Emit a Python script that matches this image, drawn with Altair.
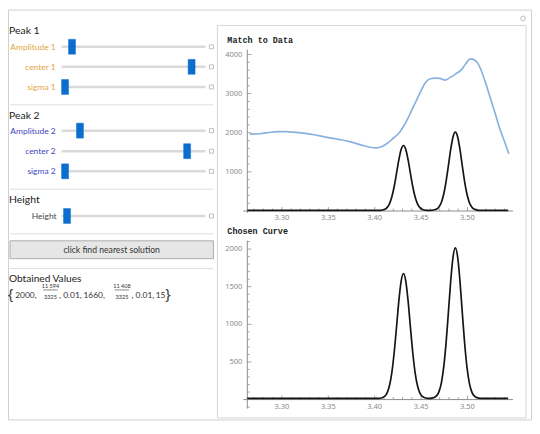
import altair as alt
import pandas as pd

# ---------------- data ----------------
data_x = [3.2655, 3.2750, 3.2850, 3.2950, 3.3050, 3.3150, 3.3250, 3.3350, 3.3450, 3.3550,
          3.3650, 3.3750, 3.3850, 3.3950, 3.4020, 3.4080, 3.4140, 3.4200, 3.4260, 3.4320,
          3.4380, 3.4440, 3.4500, 3.4550, 3.4600, 3.4650, 3.4700, 3.4760, 3.4810, 3.4870,
          3.4930, 3.4980, 3.5030, 3.5070, 3.5110, 3.5150, 3.5200, 3.5250, 3.5300, 3.5350,
          3.5400, 3.5445]
data_y = [1965, 1975, 2005, 2030, 2030, 2010, 1985, 1950, 1900, 1855,
          1815, 1760, 1690, 1630, 1615, 1650, 1740, 1860, 1990, 2200,
          2480, 2780, 3080, 3290, 3380, 3395, 3390, 3345, 3410, 3500,
          3600, 3760, 3890, 3870, 3780, 3580, 3240, 2860, 2480, 2090,
          1770, 1465]

curve_x = [3.2627, 3.3500, 3.4010, 3.4060, 3.4110, 3.4135, 3.4160, 3.4185, 3.4210, 3.4235,
           3.4260, 3.4285, 3.4310, 3.4335, 3.4360, 3.4385, 3.4410, 3.4435, 3.4460, 3.4485,
           3.4510, 3.4560, 3.4590, 3.4619, 3.4669, 3.4694, 3.4719, 3.4744, 3.4769, 3.4794,
           3.4819, 3.4844, 3.4869, 3.4894, 3.4919, 3.4944, 3.4969, 3.4994, 3.5019, 3.5044,
           3.5069, 3.5119, 3.5169, 3.5438]
curve_y = [15, 15, 15, 18, 45, 93, 190, 363, 626, 961,
           1308, 1574, 1675, 1574, 1308, 961, 626, 363, 190, 93,
           45, 18, 15, 19, 52, 109, 226, 434, 751, 1155,
           1573, 1893, 2015, 1893, 1573, 1155, 751, 434, 226, 109,
           52, 19, 15, 15]

x_major = [3.30, 3.35, 3.40, 3.45, 3.50]
x_major_text = ["3.30", "3.35", "3.40", "3.45", "3.50"]
x_minor = [3.27, 3.28, 3.29, 3.31, 3.32, 3.33, 3.34, 3.36, 3.37, 3.38, 3.39, 3.41,
           3.42, 3.43, 3.44, 3.46, 3.47, 3.48, 3.49, 3.51, 3.52, 3.53, 3.54]
y1_major = [1000, 2000, 3000, 4000]
y1_major_text = ["1000", "2000", "3000", "4000"]
y1_minor = [200, 400, 600, 800, 1200, 1400, 1600, 1800, 2200, 2400, 2600, 2800,
            3200, 3400, 3600, 3800]
y2_major = [500, 1000, 1500, 2000]
y2_major_text = ["500", "1000", "1500", "2000"]
y2_minor = [-100, 100, 200, 300, 400, 600, 700, 800, 900, 1100, 1200, 1300, 1400,
            1600, 1700, 1800, 1900, 2100]

obtained_values = ["2000", "11 594", "3325", "0.01", "1660", "11 408", "3325", "0.01", "15"]

# ---------------- layout / style ----------------
W, H = 528, 414
X0 = 3.2627           # where the y axes cross
XA, XB = 3.2585, 3.549
SX = alt.Scale(domain=[3.25, 3.55], range=[229.25, 509.75], nice=False, zero=False)
S1 = alt.Scale(domain=[0, 4000], range=[203, 45.3], nice=False, zero=False)
S2 = alt.Scale(domain=[0, 2000], range=[393, 241.3], nice=False, zero=False)
AXC = "#8c8c8c"
LABC = "#8a8a8a"
UI_FONT = "Lato"
ORANGE = "#e3a440"
BLUE = "#4343c0"
HANDLE = "#0b6ecf"
TRACK = "#dadada"
SEP = "#dedede"
VAL = "#333333"

one = pd.DataFrame({"k": [0]})
layers = []


def txt(s, x, y, size=9.0, color="#222222", align="left", font=UI_FONT, weight="normal"):
    return alt.Chart(one).mark_text(text=s, align=align, baseline="middle", fontSize=size,
                                    color=color, font=font, fontWeight=weight).encode(
        x=alt.value(x), y=alt.value(y))


def hline(x1, x2, y, color=SEP, width=1.0):
    return alt.Chart(one).mark_rule(color=color, strokeWidth=width).encode(
        x=alt.value(x1), x2=alt.value(x2), y=alt.value(y))


def box(x1, x2, y1, y2, fill=None, stroke="#cccccc", sw=1.0):
    kw = dict(stroke=stroke, strokeWidth=sw)
    if fill is None:
        kw["fillOpacity"] = 0
        kw["fill"] = "white"
    else:
        kw["fill"] = fill
    return alt.Chart(one).mark_rect(**kw).encode(
        x=alt.value(x1), x2=alt.value(x2), y=alt.value(y1), y2=alt.value(y2))


def slider(label, color, y, handle_x, label_right=48):
    out = [txt(label, label_right, y, size=8.5, color=color, align="right"),
           hline(54, 199, y, color=TRACK, width=2.5),
           box(handle_x - 3.5, handle_x + 3.5, y - 7.5, y + 7.5, fill=HANDLE, stroke=HANDLE, sw=0.5),
           box(203, 207, y - 2, y + 2, stroke="#b0b0b0", sw=0.8)]
    return out


# frames
layers.append(box(0.5, W - 0.5, 0.5, H - 0.5, fill="white", stroke="#d0d0d0"))
layers.append(box(211, 522, 16, 411.5, fill="white", stroke="#d6d6d6"))
layers.append(alt.Chart(one).mark_point(shape="circle", size=22, color="#b8b8b8", strokeWidth=1.2).encode(
    x=alt.value(519), y=alt.value(9)))

# ---- control panel ----
layers.append(txt("Peak 1", 1, 21.5, size=10.5))
layers += slider("Amplitude 1", ORANGE, 37.5, 64.5)
layers += slider("center 1", ORANGE, 57.7, 185)
layers += slider("sigma 1", ORANGE, 78, 57.5)
layers.append(hline(2, 207, 96))
layers.append(txt("Peak 2", 1, 107.5, size=10.5))
layers += slider("Amplitude 2", BLUE, 122, 72.5)
layers += slider("center 2", BLUE, 142.7, 180.5)
layers += slider("sigma 2", BLUE, 163, 57.5)
layers.append(hline(2, 207, 181))
layers.append(txt("Height", 1, 192, size=10.5))
layers += slider("Height", "#444444", 208, 59.5, label_right=49)
layers.append(hline(2, 207, 226))
layers.append(box(2, 207, 233, 251, fill="#e6e6e6", stroke="#adadad"))
layers.append(txt("click find nearest solution", 104.5, 242, size=8.7, color="#333333", align="center"))
layers.append(hline(2, 207, 261))
layers.append(txt("Obtained Values", 1, 271.5, size=10.2))

# obtained values line
VY = 287.5
layers.append(txt("{", -0.3, VY, size=14.5, color=VAL, font="Noto Sans"))
layers.append(txt(obtained_values[0] + ",", 7.2, VY, size=8.5, color=VAL))
layers.append(txt(obtained_values[1], 42.8, VY - 8.5, size=5.6, color=VAL, align="center"))
layers.append(hline(35.5, 50.0, VY - 5, color="#555555", width=0.7))
layers.append(txt(obtained_values[2], 42.8, VY + 2.5, size=5.6, color=VAL, align="center"))
layers.append(txt(", " + obtained_values[3] + ",", 51.5, VY, size=8.5, color=VAL))
layers.append(txt(obtained_values[4] + ",", 76, VY, size=8.5, color=VAL))
layers.append(txt(obtained_values[5], 114.8, VY - 8.5, size=5.6, color=VAL, align="center"))
layers.append(hline(107.5, 122.0, VY - 5, color="#555555", width=0.7))
layers.append(txt(obtained_values[6], 114.8, VY + 2.5, size=5.6, color=VAL, align="center"))
layers.append(txt(", " + obtained_values[7] + ",", 124.5, VY, size=8.5, color=VAL))
layers.append(txt(obtained_values[8], 148.8, VY, size=8.5, color=VAL))
layers.append(txt("}", 158.5, VY, size=14.5, color=VAL, font="Noto Sans"))

# plot titles
layers.append(txt("Match to Data", 221, 30.3, size=8.5, color="#222222", font="Liberation Mono", weight="bold"))
layers.append(txt("Chosen Curve", 221, 223, size=8.5, color="#222222", font="Liberation Mono", weight="bold"))


def axes(S, ylo, yhi, ymaj, ymaj_text, ymin):
    out = []
    out.append(alt.Chart(one).mark_rule(color=AXC, strokeWidth=1).encode(
        x=alt.XDatum(X0, type="quantitative", scale=SX, axis=None),
        y=alt.YDatum(ylo, type="quantitative", scale=S, axis=None),
        y2=alt.Y2Datum(yhi)))
    out.append(alt.Chart(one).mark_rule(color=AXC, strokeWidth=1).encode(
        x=alt.XDatum(XA, type="quantitative", scale=SX, axis=None),
        x2=alt.X2Datum(XB),
        y=alt.YDatum(0, type="quantitative", scale=S, axis=None)))
    for vals, ln in ((ymaj, 4), (ymin, 2.5)):
        out.append(alt.Chart(pd.DataFrame({"v": vals})).mark_rule(color=AXC, strokeWidth=0.8, x2Offset=ln).encode(
            x=alt.XDatum(X0, type="quantitative", scale=SX, axis=None),
            x2=alt.X2Datum(X0),
            y=alt.Y("v:Q", scale=S, axis=None)))
    out.append(alt.Chart(pd.DataFrame({"v": ymaj, "t": ymaj_text})).mark_text(
        align="right", baseline="middle", dx=-5, fontSize=7.5, color=LABC, font="Noto Sans").encode(
        x=alt.XDatum(X0, type="quantitative", scale=SX, axis=None),
        y=alt.Y("v:Q", scale=S, axis=None), text="t:N"))
    for vals, ln in ((x_major, 4), (x_minor, 2.5)):
        out.append(alt.Chart(pd.DataFrame({"v": vals})).mark_rule(color=AXC, strokeWidth=0.8, y2Offset=-ln).encode(
            x=alt.X("v:Q", scale=SX, axis=None),
            y=alt.YDatum(0, type="quantitative", scale=S, axis=None),
            y2=alt.Y2Datum(0)))
    out.append(alt.Chart(pd.DataFrame({"v": x_major, "t": x_major_text})).mark_text(
        align="center", baseline="middle", dy=7, fontSize=7.5, color=LABC, font="Noto Sans").encode(
        x=alt.X("v:Q", scale=SX, axis=None),
        y=alt.YDatum(0, type="quantitative", scale=S, axis=None), text="t:N"))
    return out


measured = pd.DataFrame({"x": data_x, "y": data_y})
curve = pd.DataFrame({"x": curve_x, "y": curve_y})

# plot 1: Match to Data
layers += axes(S1, -50, 4127, y1_major, y1_major_text, y1_minor)
layers.append(alt.Chart(measured).mark_line(color="#8ab2de", strokeWidth=1.7, interpolate="monotone").encode(
    x=alt.X("x:Q", scale=SX, axis=None), y=alt.Y("y:Q", scale=S1, axis=None)))
layers.append(alt.Chart(curve).mark_line(color="#151515", strokeWidth=1.7, interpolate="monotone").encode(
    x=alt.X("x:Q", scale=SX, axis=None), y=alt.Y("y:Q", scale=S1, axis=None)))

# plot 2: Chosen Curve
layers += axes(S2, -119, 2113, y2_major, y2_major_text, y2_minor)
layers.append(alt.Chart(curve).mark_line(color="#151515", strokeWidth=1.7, interpolate="monotone").encode(
    x=alt.X("x:Q", scale=SX, axis=None), y=alt.Y("y:Q", scale=S2, axis=None)))

chart = alt.layer(*layers).resolve_scale(x="independent", y="independent").properties(
    width=W, height=H, padding=0, autosize=alt.AutoSizeParams(type="none"),
    background="white").configure_view(stroke=None)

chart.save("out.html", embed_options={"renderer": "svg", "actions": False})
